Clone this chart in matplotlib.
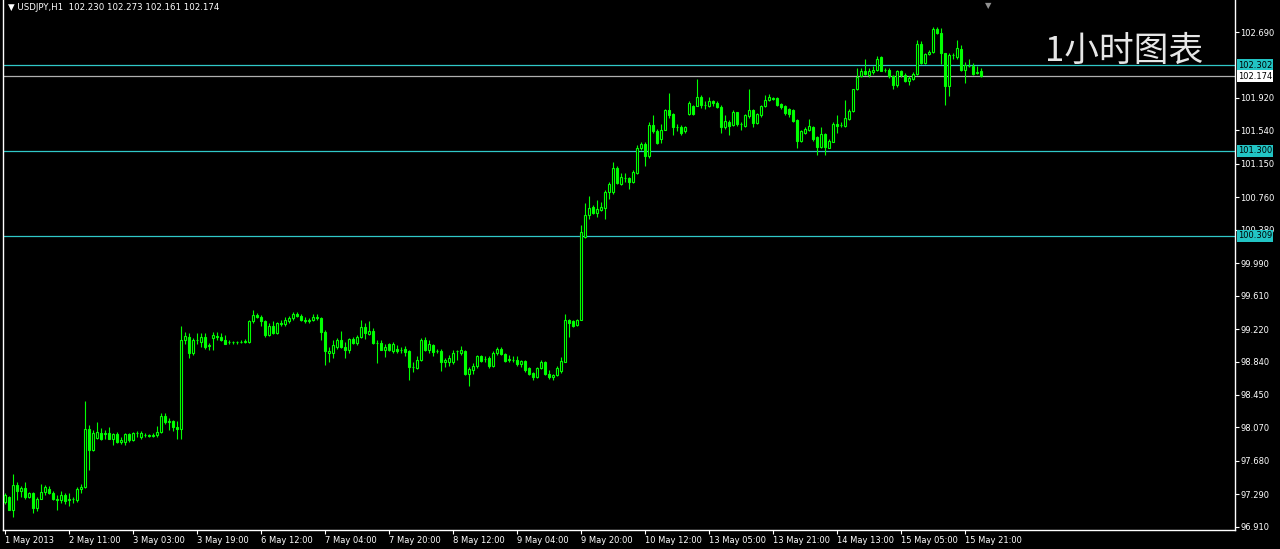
import matplotlib
matplotlib.use('Agg')
import matplotlib.pyplot as plt

plt.rcParams['font.family'] = ['DejaVu Sans']

symbol = 'USDJPY,H1'
last_ohlc = ['102.230', '102.273', '102.161', '102.174']

opens = [
    97.20, 97.26, 97.11, 97.40, 97.33, 97.36, 97.26, 97.30, 97.13, 97.24,
    97.32, 97.35, 97.30, 97.24, 97.22, 97.28, 97.22, 97.23, 97.22, 97.35,
    97.37, 98.05, 97.81, 97.95, 98.01, 97.99, 98.01, 97.94, 97.99, 97.90,
    97.90, 97.99, 97.92, 98.00, 97.96, 97.98, 97.98, 97.97, 97.98, 98.02,
    98.20, 98.13, 98.14, 98.07, 98.05, 99.09, 99.13, 98.94, 99.09, 99.07,
    99.13, 99.02, 99.12, 99.14, 99.13, 99.09, 99.07, 99.07, 99.07, 99.07,
    99.07, 99.07, 99.31, 99.38, 99.36, 99.31, 99.15, 99.26, 99.17, 99.29,
    99.28, 99.31, 99.35, 99.40, 99.37, 99.33, 99.31, 99.33, 99.36, 99.35,
    99.18, 98.94, 98.94, 99.01, 99.09, 99.01, 98.97, 99.10, 99.06, 99.13,
    99.24, 99.16, 99.20, 99.06, 99.06, 98.98, 99.05, 98.96, 98.99, 98.97,
    98.99, 98.96, 98.78, 98.77, 98.86, 99.09, 98.97, 99.03, 98.96, 98.96,
    98.83, 98.83, 98.83, 98.96, 98.94, 98.96, 98.70, 98.74, 98.79, 98.90,
    98.87, 98.88, 98.79, 98.94, 98.99, 98.93, 98.86, 98.86, 98.86, 98.81,
    98.85, 98.76, 98.71, 98.66, 98.77, 98.83, 98.70, 98.66, 98.68, 98.73,
    98.84, 99.32, 99.31, 99.27, 99.33, 100.30, 100.55, 100.65, 100.57, 100.61,
    100.63, 100.82, 100.82, 101.10, 100.92, 100.98, 100.98, 100.94, 101.04, 101.33,
    101.38, 101.24, 101.60, 101.53, 101.44, 101.55, 101.78, 101.73, 101.58, 101.58,
    101.53, 101.73, 101.83, 101.83, 101.93, 101.84, 101.83, 101.88, 101.86, 101.81,
    101.58, 101.64, 101.60, 101.75, 101.62, 101.59, 101.71, 101.78, 101.63, 101.72,
    101.82, 101.89, 101.92, 101.92, 101.85, 101.82, 101.79, 101.78, 101.66, 101.42,
    101.51, 101.55, 101.58, 101.46, 101.35, 101.50, 101.34, 101.41, 101.62, 101.60,
    101.59, 101.67, 101.77, 102.02, 102.18, 102.23, 102.19, 102.22, 102.25, 102.40,
    102.25, 102.25, 102.18, 102.07, 102.23, 102.19, 102.12, 102.14, 102.20, 102.55,
    102.33, 102.43, 102.46, 102.72, 102.68, 102.44, 102.06, 102.42, 102.40, 102.49,
    102.25, 102.29, 102.29, 102.21, 102.230,
]
highs = [
    97.30, 97.27, 97.53, 97.43, 97.39, 97.43, 97.32, 97.32, 97.26, 97.41,
    97.40, 97.39, 97.33, 97.28, 97.33, 97.30, 97.30, 97.26, 97.37, 97.41,
    98.38, 98.10, 98.04, 98.13, 98.06, 98.04, 98.07, 98.00, 98.02, 97.96,
    98.01, 98.00, 98.02, 98.03, 98.03, 98.00, 97.99, 98.00, 98.09, 98.24,
    98.24, 98.18, 98.16, 98.14, 99.25, 99.19, 99.17, 99.11, 99.17, 99.17,
    99.17, 99.06, 99.18, 99.19, 99.17, 99.15, 99.09, 99.08, 99.08, 99.09,
    99.10, 99.33, 99.44, 99.41, 99.38, 99.33, 99.29, 99.31, 99.30, 99.33,
    99.36, 99.37, 99.42, 99.42, 99.39, 99.36, 99.35, 99.40, 99.39, 99.36,
    99.21, 99.01, 99.09, 99.11, 99.20, 99.07, 99.11, 99.13, 99.15, 99.33,
    99.29, 99.31, 99.23, 99.09, 99.09, 99.05, 99.06, 99.07, 99.03, 99.01,
    99.02, 98.98, 98.84, 98.90, 99.11, 99.13, 99.09, 99.05, 98.99, 98.99,
    98.88, 98.92, 98.98, 98.98, 99.02, 98.98, 98.78, 98.82, 98.92, 98.92,
    98.90, 98.90, 98.96, 99.01, 99.01, 98.94, 98.92, 98.90, 98.90, 98.86,
    98.86, 98.78, 98.72, 98.78, 98.86, 98.85, 98.74, 98.70, 98.79, 98.89,
    99.40, 99.34, 99.33, 99.34, 100.44, 100.69, 100.77, 100.67, 100.73, 100.70,
    100.84, 100.94, 101.17, 101.12, 101.04, 101.04, 101.00, 101.08, 101.37, 101.41,
    101.41, 101.64, 101.72, 101.56, 101.62, 101.79, 101.98, 101.74, 101.62, 101.60,
    101.59, 101.88, 101.84, 102.14, 101.95, 101.88, 101.93, 101.90, 101.88, 101.84,
    101.72, 101.66, 101.78, 101.76, 101.64, 101.73, 102.03, 101.79, 101.74, 101.84,
    101.95, 101.97, 101.93, 101.93, 101.86, 101.84, 101.80, 101.79, 101.67, 101.55,
    101.58, 101.67, 101.59, 101.48, 101.58, 101.51, 101.44, 101.64, 101.72, 101.64,
    101.90, 101.79, 102.03, 102.27, 102.27, 102.38, 102.27, 102.29, 102.41, 102.41,
    102.27, 102.27, 102.19, 102.25, 102.25, 102.21, 102.18, 102.22, 102.60, 102.58,
    102.45, 102.48, 102.75, 102.75, 102.74, 102.45, 102.44, 102.44, 102.60, 102.54,
    102.34, 102.38, 102.33, 102.29, 102.273,
]
lows = [
    97.18, 97.10, 97.02, 97.22, 97.26, 97.23, 97.25, 97.07, 97.09, 97.23,
    97.28, 97.29, 97.22, 97.10, 97.19, 97.18, 97.15, 97.19, 97.20, 97.30,
    97.36, 97.57, 97.80, 97.93, 97.92, 97.94, 97.93, 97.86, 97.89, 97.88,
    97.87, 97.90, 97.91, 97.96, 97.93, 97.96, 97.96, 97.96, 97.96, 98.00,
    98.11, 98.04, 98.03, 97.94, 97.93, 99.05, 98.88, 98.92, 99.05, 99.01,
    98.99, 98.98, 98.98, 99.09, 99.08, 99.04, 99.05, 99.05, 99.05, 99.06,
    99.06, 99.06, 99.29, 99.35, 99.25, 99.13, 99.14, 99.16, 99.16, 99.25,
    99.26, 99.29, 99.33, 99.36, 99.31, 99.29, 99.29, 99.31, 99.33, 99.09,
    98.80, 98.84, 98.88, 98.99, 99.00, 98.88, 98.94, 99.05, 99.03, 99.11,
    99.10, 99.15, 99.05, 98.82, 98.97, 98.89, 98.96, 98.94, 98.94, 98.94,
    98.90, 98.62, 98.72, 98.75, 98.85, 98.96, 98.94, 98.90, 98.94, 98.73,
    98.78, 98.79, 98.81, 98.86, 98.92, 98.68, 98.55, 98.70, 98.77, 98.83,
    98.83, 98.77, 98.78, 98.92, 98.92, 98.83, 98.83, 98.83, 98.79, 98.78,
    98.72, 98.68, 98.63, 98.65, 98.75, 98.68, 98.64, 98.63, 98.67, 98.71,
    98.83, 99.13, 99.24, 99.25, 99.32, 100.28, 100.50, 100.56, 100.53, 100.60,
    100.51, 100.74, 100.80, 100.92, 100.90, 100.94, 100.86, 100.93, 101.03, 101.31,
    101.12, 101.22, 101.51, 101.38, 101.39, 101.54, 101.68, 101.49, 101.53, 101.49,
    101.51, 101.72, 101.72, 101.82, 101.80, 101.79, 101.81, 101.83, 101.80, 101.51,
    101.56, 101.49, 101.59, 101.59, 101.55, 101.58, 101.69, 101.58, 101.62, 101.70,
    101.81, 101.88, 101.89, 101.83, 101.79, 101.72, 101.70, 101.64, 101.34, 101.41,
    101.50, 101.53, 101.42, 101.25, 101.33, 101.25, 101.33, 101.40, 101.51, 101.58,
    101.58, 101.66, 101.76, 102.01, 102.16, 102.19, 102.16, 102.20, 102.24, 102.23,
    102.22, 102.15, 102.03, 102.05, 102.17, 102.11, 102.07, 102.13, 102.19, 102.32,
    102.32, 102.42, 102.45, 102.67, 102.32, 101.84, 101.94, 102.38, 102.38, 102.24,
    102.10, 102.28, 102.19, 102.20, 102.161,
]
closes = [
    97.28, 97.11, 97.40, 97.33, 97.36, 97.26, 97.30, 97.13, 97.24, 97.32,
    97.37, 97.30, 97.24, 97.22, 97.28, 97.21, 97.23, 97.23, 97.35, 97.37,
    98.05, 97.81, 98.00, 98.02, 97.94, 98.00, 97.94, 97.99, 97.90, 97.92,
    97.99, 97.92, 98.01, 98.00, 98.01, 97.98, 97.97, 97.98, 98.02, 98.20,
    98.13, 98.14, 98.07, 98.05, 99.09, 99.14, 98.94, 99.09, 99.09, 99.13,
    99.01, 99.03, 99.15, 99.13, 99.09, 99.05, 99.07, 99.07, 99.07, 99.07,
    99.08, 99.31, 99.38, 99.36, 99.31, 99.15, 99.26, 99.17, 99.29, 99.28,
    99.33, 99.35, 99.40, 99.37, 99.33, 99.31, 99.32, 99.36, 99.35, 99.18,
    98.96, 98.96, 99.03, 99.09, 99.01, 98.97, 99.10, 99.06, 99.13, 99.24,
    99.17, 99.20, 99.06, 99.06, 98.98, 99.01, 98.98, 99.05, 98.96, 98.98,
    98.95, 98.78, 98.78, 98.86, 99.09, 98.97, 99.05, 98.95, 98.96, 98.83,
    98.86, 98.88, 98.94, 98.96, 98.97, 98.70, 98.75, 98.79, 98.90, 98.85,
    98.87, 98.79, 98.94, 98.99, 98.93, 98.85, 98.87, 98.86, 98.81, 98.85,
    98.74, 98.70, 98.66, 98.77, 98.83, 98.70, 98.66, 98.68, 98.76, 98.85,
    99.33, 99.29, 99.26, 99.33, 100.35, 100.55, 100.63, 100.57, 100.62, 100.65,
    100.82, 100.92, 101.10, 100.93, 101.00, 100.98, 100.94, 101.05, 101.33, 101.38,
    101.24, 101.60, 101.53, 101.39, 101.55, 101.78, 101.72, 101.58, 101.58, 101.51,
    101.58, 101.86, 101.73, 101.93, 101.84, 101.84, 101.88, 101.86, 101.81, 101.58,
    101.65, 101.59, 101.75, 101.62, 101.62, 101.72, 101.78, 101.63, 101.73, 101.83,
    101.89, 101.93, 101.91, 101.84, 101.81, 101.74, 101.73, 101.65, 101.42, 101.53,
    101.56, 101.59, 101.44, 101.35, 101.50, 101.35, 101.42, 101.62, 101.59, 101.60,
    101.68, 101.77, 102.02, 102.17, 102.24, 102.20, 102.24, 102.25, 102.38, 102.24,
    102.25, 102.18, 102.07, 102.24, 102.19, 102.12, 102.15, 102.20, 102.55, 102.33,
    102.43, 102.46, 102.72, 102.68, 102.44, 102.06, 102.42, 102.42, 102.50, 102.25,
    102.30, 102.29, 102.20, 102.22, 102.174,
]

time_labels = ['1 May 2013', '2 May 11:00', '3 May 03:00', '3 May 19:00',
               '6 May 12:00', '7 May 04:00', '7 May 20:00', '8 May 12:00',
               '9 May 04:00', '9 May 20:00', '10 May 12:00', '13 May 05:00',
               '13 May 21:00', '14 May 13:00', '15 May 05:00', '15 May 21:00']
# 102.300 sits under the 102.302 tag in the original, so it is left out
price_ticks = [96.910, 97.290, 97.680, 98.070, 98.450, 98.840, 99.220, 99.610,
               99.990, 100.380, 100.760, 101.150, 101.540, 101.920, 102.690]
levels = [102.302, 101.300, 100.309]
bid = 102.174

W, H = 1280, 549
fig = plt.figure(figsize=(W / 100, H / 100), dpi=100, facecolor='black')
ax = fig.add_axes([3 / W, 19 / H, 1232 / W, 530 / H])
ax.set_facecolor('black')

green = '#00ff00'
cyan = '#30c8c8'
xs = list(range(len(closes)))

# candles: wick then body
ax.vlines(xs, lows, highs, color=green, lw=0.8, zorder=3)
bottoms = [min(o, c) for o, c in zip(opens, closes)]
heights = [abs(c - o) for o, c in zip(opens, closes)]
fills = ['black' if c >= o else green for o, c in zip(opens, closes)]
ax.bar(xs, heights, width=0.5, bottom=bottoms, color=fills,
       edgecolor=green, linewidth=0.8, zorder=4)

for lv in levels:
    ax.axhline(lv, color=cyan, lw=0.9, zorder=2)
ax.axhline(bid, color='#b0b0b0', lw=0.9, zorder=2)

ax.set_xlim(-0.5, 307.5)
ax.set_ylim(96.872, 103.064)

# axes / ticks
for s in ['left', 'right', 'bottom']:
    ax.spines[s].set_color('white')
    ax.spines[s].set_linewidth(1.0)
ax.spines['top'].set_visible(False)

ax.yaxis.tick_right()
ax.set_yticks(price_ticks)
ax.set_yticklabels(['%.3f' % p for p in price_ticks])
ax.set_xticks(list(range(0, 16 * len(time_labels), 16)))
ax.set_xticklabels(time_labels)
for lbl in ax.get_xticklabels():
    lbl.set_ha('left')
ax.tick_params(axis='both', colors='white', labelsize=6, length=3, width=0.8, pad=1)

# price tags on the right axis
for lv in levels:
    ax.annotate('%.3f' % lv, xy=(1, lv), xycoords=('axes fraction', 'data'),
                xytext=(2, 0), textcoords='offset points', ha='left', va='center',
                fontsize=6, color='black', annotation_clip=False, zorder=10,
                bbox=dict(boxstyle='square,pad=0.15', fc='#22c4c4', ec='none'))
ax.annotate('%.3f' % bid, xy=(1, bid), xycoords=('axes fraction', 'data'),
            xytext=(2, 0), textcoords='offset points', ha='left', va='center',
            fontsize=6, color='black', annotation_clip=False, zorder=10,
            bbox=dict(boxstyle='square,pad=0.15', fc='white', ec='none'))

fig.text(8 / W, 1 - 8 / H, '\u25bc ' + symbol + '  ' + ' '.join(last_ohlc),
         color='white', fontsize=6.2, va='center', ha='left')
fig.text(988 / W, 1 - 1 / H, '\u25bc', color='#909090', fontsize=6, va='top', ha='center')
fig.text(1045 / W, 1 - 51 / H, '1小时图表', color='#e6e6e6', fontsize=25,
         va='center', ha='left', family=['Noto Sans CJK SC', 'DejaVu Sans'])

fig.savefig('out.png', dpi=100, facecolor='black')
